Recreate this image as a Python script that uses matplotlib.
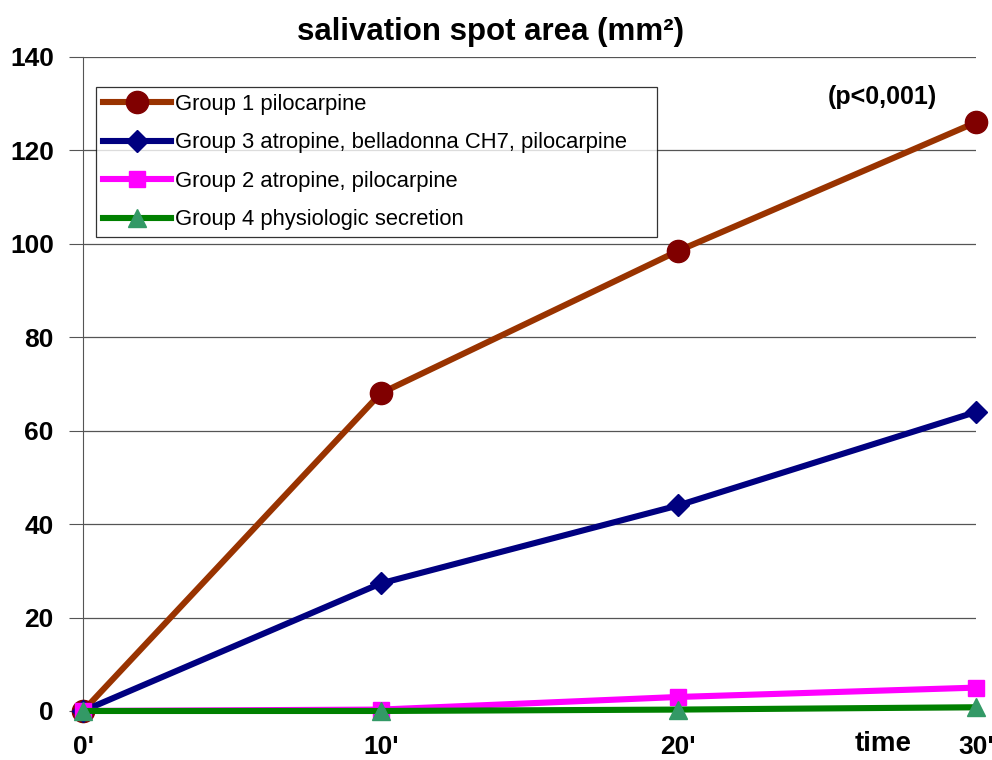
import matplotlib.pyplot as plt

plt.rcParams['font.family'] = ['Liberation Sans', 'DejaVu Sans']

x = [0, 10, 20, 30]
xlabels = ["0'", "10'", "20'", "30'"]
group1 = [0, 68, 98.5, 126]
group3 = [0, 27.3, 44, 64]
group2 = [0, 0.3, 3, 5]
group4 = [0, 0, 0.3, 0.8]

fig = plt.figure(figsize=(9.92, 7.6), dpi=100)
ax = fig.add_axes([0.0837, 0.0645, 0.9, 0.8605])

ax.plot(x, group1, label='Group 1 pilocarpine', color='#993300', lw=4.4,
        marker='o', markersize=16, markerfacecolor='#800000', markeredgecolor='#800000', clip_on=False, zorder=5)
ax.plot(x, group3, label='Group 3 atropine, belladonna CH7, pilocarpine', color='#000080', lw=4.4,
        marker='D', markersize=11, markerfacecolor='#000080', markeredgecolor='#000080', clip_on=False, zorder=5)
ax.plot(x, group2, label='Group 2 atropine, pilocarpine', color='#FF00FF', lw=4.4,
        marker='s', markersize=12, markerfacecolor='#FF00FF', markeredgecolor='#FF00FF', clip_on=False, zorder=5)
ax.plot(x, group4, label='Group 4 physiologic secretion', color='#008000', lw=4.4,
        marker='^', markersize=13, markerfacecolor='#339966', markeredgecolor='#339966', clip_on=False, zorder=6)

ax.set_xlim(0, 30)
ax.set_ylim(0, 140)
ax.set_yticks(range(0, 141, 20))
ax.set_xticks(x)
ax.set_xticklabels(xlabels)
ax.grid(axis='y', color='#555555', lw=0.9)
ax.set_axisbelow(True)
for s in ['top', 'right', 'bottom']:
    ax.spines[s].set_visible(False)
ax.spines['left'].set_color('#555555')
ax.tick_params(axis='y', length=10, color='#555555', labelsize=19, pad=11)
ax.tick_params(axis='x', length=0, labelsize=19, pad=17)
for t in ax.get_xticklabels() + ax.get_yticklabels():
    t.set_fontweight('bold')

fig.text(0.494, 0.958, 'salivation spot area (mm²)', ha='center', va='center',
         fontsize=22.5, fontweight='bold')
ax.text(28.7, 131.5, '(p<0,001)', ha='right', va='center', fontsize=18, fontweight='bold')
ax.text(26.9, -7, 'time', ha='center', va='center', fontsize=20, fontweight='bold')

# legend stretched to the reference box width, entries stay on the left
leg = ax.legend(loc='upper left', bbox_to_anchor=(0.0146, 0.8, 0.628, 0.154), mode='expand',
                fontsize=15.8, frameon=True, fancybox=False, edgecolor='black',
                handlelength=3.1, handletextpad=0.2, labelspacing=0.8, borderpad=0.3,
                borderaxespad=0)
leg.get_frame().set_linewidth(0.9)

fig.savefig('out.png', dpi=100)
